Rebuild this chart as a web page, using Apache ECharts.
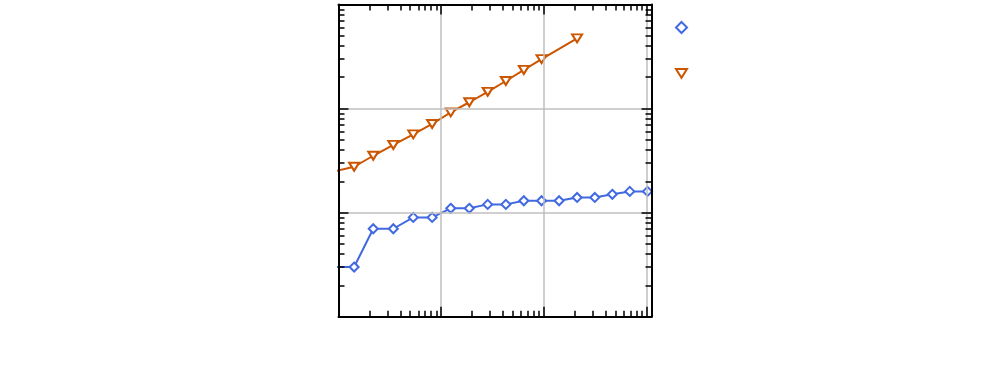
<!DOCTYPE html>
<html>
<head>
<meta charset="utf-8">
<script src="https://cdn.jsdelivr.net/npm/echarts@6/dist/echarts.min.js"></script>
<style>
html,body{margin:0;padding:0;background:#fff;}
#chart{width:990px;height:387px;}
</style>
</head>
<body>
<div id="chart"></div>
<script>
// X positions shared by both series (log scale)
var xValues = [0.93, 1.42, 2.18, 3.42, 5.35, 8.17, 12.4, 18.8, 28.4, 42.7, 63.9, 95.1, 141, 211, 314, 465, 688, 1023];
// Blue diamonds
var blueValues = [3, 3, 7, 7, 9, 9, 11, 11, 12, 12, 13, 13, 13, 14, 14, 15, 16, 16];
// Orange triangles (null = no point at that x)
var orangeValues = [25, 27.6, 35.2, 44.7, 56.6, 71.1, 92.1, 115, 145, 184, 235, 299, null, 473];
// Axis tick values
var majorTicksX = [1, 10, 100, 1000];
var minorTicksX = [2,3,4,5,6,7,8,9,20,30,40,50,60,70,80,90,200,300,400,500,600,700,800,900];
var majorTicksY = [1, 10, 100, 1000];
var minorTicksY = [2,3,4,5,6,7,8,9,20,30,40,50,60,70,80,90,200,300,400,500,600,700,800,900];

var X_MIN = 1, X_MAX = 1120, Y_MIN = 1, Y_MAX = 1000;
var BLUE = '#4169e1', ORANGE = '#cc5500';
var TRI = 'path://M0,0L10,0L5,8Z';

function pairs(xs, ys) {
  var out = [];
  for (var i = 0; i < ys.length; i++) {
    if (ys[i] !== null && ys[i] !== undefined) out.push([xs[i], ys[i]]);
  }
  return out;
}

function makeAxis(kind, position, ticks, len, major) {
  var ax = {
    type: 'log', logBase: 10, position: position,
    min: kind === 'x' ? X_MIN : Y_MIN,
    max: kind === 'x' ? X_MAX : Y_MAX,
    axisLabel: { show: false },
    axisLine: { show: major, lineStyle: { color: '#000', width: 2 } },
    axisTick: { show: true, inside: true, length: len, customValues: ticks,
      lineStyle: { color: '#000', width: 1.5 } },
    splitLine: { show: false },
    minorTick: { show: false },
    z: 5
  };
  if (major && (position === 'bottom' || position === 'left')) {
    ax.splitLine = { show: true, lineStyle: { color: '#bfbfbf', width: 1.5 } };
  }
  return ax;
}

var chart = echarts.init(document.getElementById('chart'), null, { renderer: 'canvas' });
chart.setOption({
  animation: false,
  backgroundColor: '#fff',
  grid: { left: 338.5, top: 4.5, width: 313, height: 312.2, containLabel: false },
  xAxis: [
    makeAxis('x', 'bottom', majorTicksX, 10, true),
    makeAxis('x', 'bottom', minorTicksX, 6, false),
    makeAxis('x', 'top', majorTicksX, 10, true),
    makeAxis('x', 'top', minorTicksX, 6, false)
  ],
  yAxis: [
    makeAxis('y', 'left', majorTicksY, 10, true),
    makeAxis('y', 'left', minorTicksY, 6, false),
    makeAxis('y', 'right', majorTicksY, 10, true),
    makeAxis('y', 'right', minorTicksY, 6, false)
  ],
  legend: [
    { left: 675, top: 21, padding: 0, itemWidth: 11, itemHeight: 11,
      data: [{ name: 'blue', icon: 'diamond', itemStyle: { color: '#fff', borderColor: BLUE, borderWidth: 2 } }],
      formatter: function () { return ''; } },
    { left: 675, top: 68, padding: 0, itemWidth: 11, itemHeight: 9,
      data: [{ name: 'orange', icon: TRI, itemStyle: { color: '#fff', borderColor: ORANGE, borderWidth: 2 } }],
      formatter: function () { return ''; } }
  ],
  series: [
    { name: 'blue', type: 'line', xAxisIndex: 0, yAxisIndex: 0,
      data: pairs(xValues, blueValues),
      symbol: 'diamond', symbolSize: 9, showAllSymbol: true,
      lineStyle: { color: BLUE, width: 2 },
      itemStyle: { color: '#fff', borderColor: BLUE, borderWidth: 2 },
      z: 3 },
    { name: 'orange', type: 'line', xAxisIndex: 0, yAxisIndex: 0,
      data: pairs(xValues, orangeValues),
      symbol: TRI, symbolSize: [10, 8], showAllSymbol: true,
      lineStyle: { color: ORANGE, width: 2 },
      itemStyle: { color: '#fff', borderColor: ORANGE, borderWidth: 2 },
      z: 3 }
  ]
});
</script>
</body>
</html>
